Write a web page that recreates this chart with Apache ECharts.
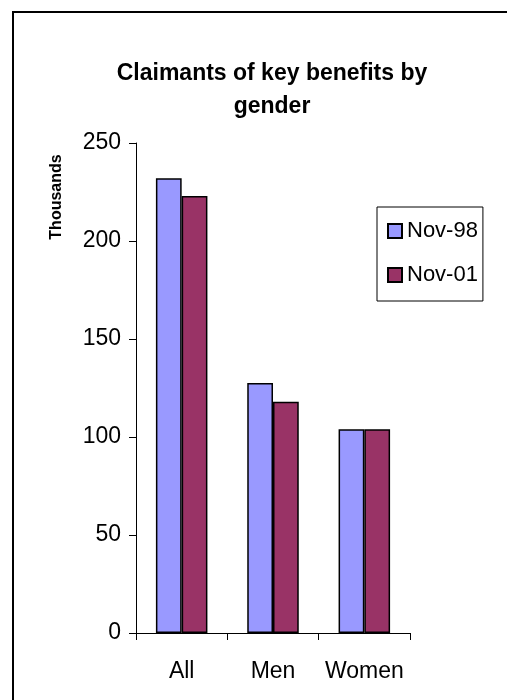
<!DOCTYPE html>
<html>
<head>
<meta charset="utf-8">
<script src="https://cdn.jsdelivr.net/npm/echarts@6/dist/echarts.min.js"></script>
<style>html,body{margin:0;padding:0;background:#fff}#c{width:507px;height:700px}</style>
</head>
<body>
<div id="c"></div>
<script>
const categories = ['All', 'Men', 'Women'];
const nov98 = [232, 127.5, 104];
const nov01 = [223, 118, 104];
const seriesNames = ['Nov-98', 'Nov-01'];
const yTicks = { min: 0, max: 250, interval: 50 };

const chart = echarts.init(document.getElementById('c'), null, { renderer: 'canvas' });
const font = '"Liberation Sans", Arial, sans-serif';
chart.setOption({
  backgroundColor: '#fff',
  animation: false,
  title: {
    text: 'Claimants of key benefits by\ngender',
    left: 267, top: 52, textAlign: 'center',
    textStyle: { fontFamily: font, fontSize: 23, fontWeight: 'bold', color: '#000', lineHeight: 33 }
  },
  graphic: [
    { type: 'rect', shape: { x: 13, y: 12, width: 700, height: 900 }, style: { fill: 'none', stroke: '#000', lineWidth: 2 }, silent: true },
    { type: 'text', x: 57, y: 197, rotation: Math.PI / 2,
      style: { text: 'Thousands', font: 'bold 16px ' + font, fill: '#000', textAlign: 'center', textVerticalAlign: 'middle' } }
  ],
  legend: {
    orient: 'vertical', left: 377, top: 207,
    data: seriesNames,
    icon: 'rect', itemWidth: 14, itemHeight: 14, itemGap: 22,
    borderColor: '#000', borderWidth: 1, padding: [13, 5, 15, 10],
    textStyle: { fontFamily: font, fontSize: 22, color: '#000', lineHeight: 20 }
  },
  grid: { left: 136, top: 143, right: 97, bottom: 67, containLabel: false },
  xAxis: {
    type: 'category', data: categories,
    axisLine: { lineStyle: { color: '#000', width: 1 } },
    axisTick: { show: true, length: 7, lineStyle: { color: '#000' } },
    axisLabel: { fontFamily: font, fontSize: 23, color: '#000', margin: 27, interval: 0, hideOverlap: false }
  },
  yAxis: {
    type: 'value', min: yTicks.min, max: yTicks.max, interval: yTicks.interval,
    splitLine: { show: false },
    axisLine: { show: true, lineStyle: { color: '#000', width: 1 } },
    axisTick: { show: true, length: 7, lineStyle: { color: '#000' } },
    axisLabel: { fontFamily: font, fontSize: 23, color: '#000', margin: 15 }
  },
  series: [
    { name: seriesNames[0], type: 'bar', data: nov98, barGap: '0%', barCategoryGap: '43.6%',
      itemStyle: { color: '#9999FF', borderColor: '#000', borderWidth: 1.5 } },
    { name: seriesNames[1], type: 'bar', data: nov01,
      itemStyle: { color: '#993366', borderColor: '#000', borderWidth: 1.5 } }
  ]
});
</script>
</body>
</html>
